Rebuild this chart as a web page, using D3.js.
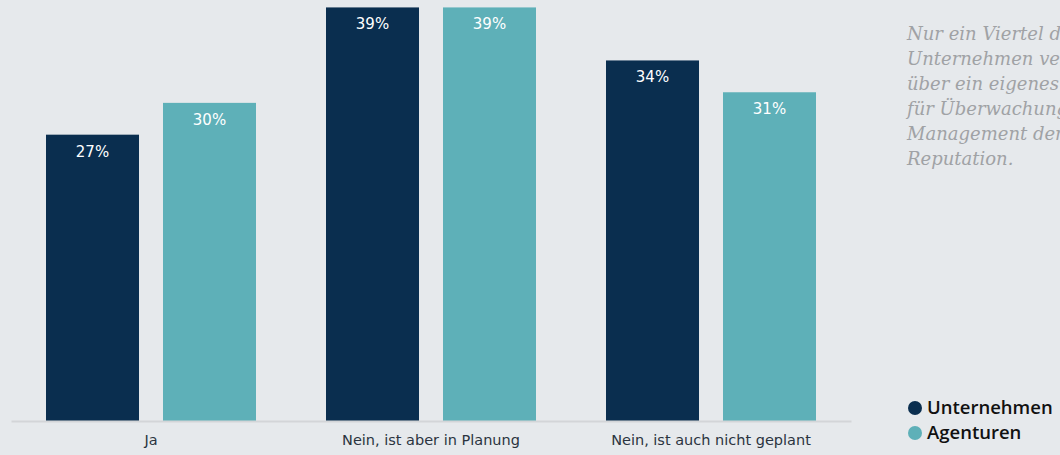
<!DOCTYPE html>
<html>
<head>
<meta charset="utf-8">
<script src="https://cdn.jsdelivr.net/npm/d3@7"></script>
<style>
  html, body { margin: 0; padding: 0; background: #e6e9ec; }
  svg { display: block; }
</style>
</head>
<body>
<svg id="chart" width="1060" height="455"></svg>
<script>
// Antworten und Anteile je Gruppe (in Prozent)
const categories = ["Ja", "Nein, ist aber in Planung", "Nein, ist auch nicht geplant"];
const seriesNames = ["Unternehmen", "Agenturen"];
const unternehmen = [27, 39, 34];
const agenturen = [30, 39, 31];
const seriesColors = ["#0a2e4f", "#5eb0b8"];
const noteLines = [
  "Nur ein Viertel der",
  "Unternehmen verfügt",
  "über ein eigenes Tool",
  "für Überwachung und",
  "Management der",
  "Reputation."
];

const svg = d3.select("#chart");
const W = 1060, H = 455;
svg.append("rect").attr("width", W).attr("height", H).attr("fill", "#e6e9ec");

const values = [unternehmen, agenturen];
const baseY = 421;

const x0 = d3.scaleBand().domain(categories).range([11, 851]).padding(0);
const x1 = d3.scaleBand().domain(seriesNames).range([35, 245]).paddingInner(0.205).paddingOuter(0);
const y = d3.scaleLinear().domain([0, 39.7]).range([baseY, 0]);

const groups = svg.append("g").selectAll("g")
  .data(categories)
  .join("g")
  .attr("transform", d => `translate(${x0(d)},0)`);

groups.selectAll("rect")
  .data((c, i) => seriesNames.map((s, k) => ({ s, k, v: values[k][i] })))
  .join("rect")
  .attr("x", d => x1(d.s))
  .attr("y", d => y(d.v))
  .attr("width", x1.bandwidth())
  .attr("height", d => baseY - y(d.v))
  .attr("fill", d => seriesColors[d.k]);

groups.selectAll("text.val")
  .data((c, i) => seriesNames.map((s, k) => ({ s, k, v: values[k][i] })))
  .join("text")
  .attr("class", "val")
  .attr("x", d => x1(d.s) + x1.bandwidth() / 2)
  .attr("y", d => y(d.v) + 22)
  .attr("text-anchor", "middle")
  .attr("fill", "#ffffff")
  .style("font-family", "'DejaVu Sans', Verdana, sans-serif")
  .style("font-size", "15px")
  .text(d => d.v + "%");

// Grundlinie und Kategorien
const xAxis = d3.axisBottom(x0).tickSize(0).tickPadding(14);
const ax = svg.append("g").attr("transform", `translate(0,${baseY})`).call(xAxis);
ax.select(".domain").attr("stroke", "#d3d5d8").attr("stroke-width", 2);
ax.selectAll("text")
  .attr("fill", "#2b3440")
  .style("font-family", "'DejaVu Sans', Verdana, sans-serif")
  .style("font-size", "14.5px");

// Hinweistext rechts (läuft am Rand aus)
const note = svg.append("text")
  .attr("x", 907)
  .attr("fill", "#a0a2a5")
  .style("font-family", "'DejaVu Serif', Georgia, serif")
  .style("font-style", "italic")
  .style("font-size", "18px");
note.selectAll("tspan")
  .data(noteLines)
  .join("tspan")
  .attr("x", 907)
  .attr("y", (d, i) => 40 + i * 25)
  .text(d => d);

// Legende
const legend = svg.append("g").selectAll("g")
  .data(seriesNames)
  .join("g")
  .attr("transform", (d, i) => `translate(915,${408 + i * 25})`);
legend.append("circle").attr("r", 7).attr("fill", (d, i) => seriesColors[i]);
legend.append("text")
  .attr("x", 12)
  .attr("y", 6)
  .attr("fill", "#111")
  .style("font-family", "'Open Sans', sans-serif")
  .style("font-weight", "600")
  .style("font-size", "18.5px")
  .text(d => d);
</script>
</body>
</html>
